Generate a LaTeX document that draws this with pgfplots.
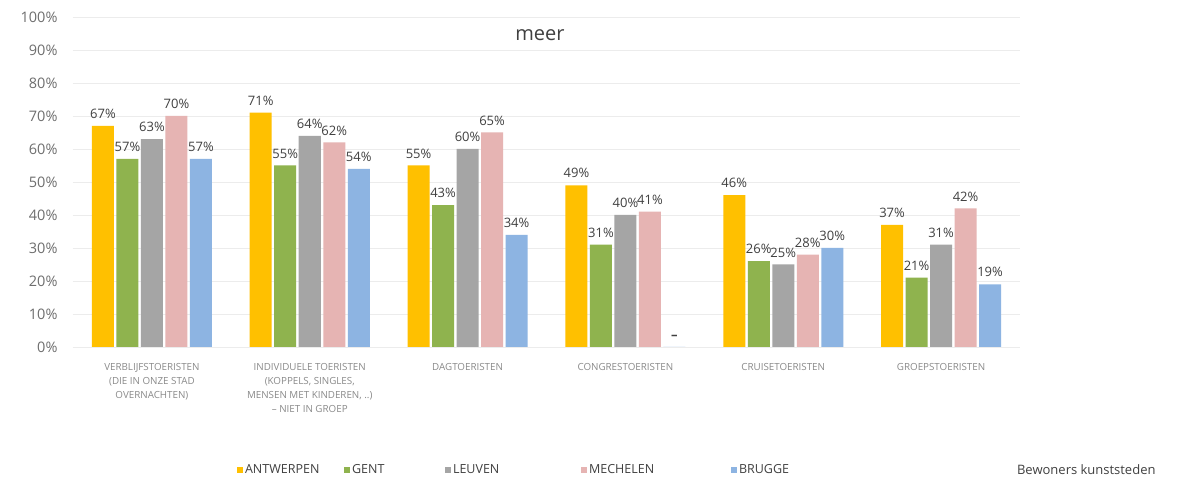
\documentclass[border=0pt]{standalone}
\usepackage{pgfplots}
\pgfplotsset{compat=1.18}
\usepackage{fontspec}
\setmainfont{Open Sans}
\definecolor{cyel}{HTML}{FFC000}
\definecolor{cgrn}{HTML}{8FB34E}
\definecolor{cgry}{HTML}{A5A5A5}
\definecolor{cpnk}{HTML}{E6B4B3}
\definecolor{cblu}{HTML}{8DB4E2}
\definecolor{gridc}{HTML}{ECECEC}
\definecolor{ticklab}{HTML}{6E6E6E}
\definecolor{xlab}{HTML}{8A8A8A}
\definecolor{datalab}{HTML}{404040}
\begin{document}
\begin{tikzpicture}
\fill[white] (-73pt,-134pt) rectangle (1106pt,347pt);
\path[use as bounding box] (-73pt,-134pt) rectangle (1106pt,347pt);
\begin{axis}[
  at={(0,0)}, anchor=south west,
  scale only axis, width=947pt, height=330pt,
  ybar=2.5pt, bar width=22pt,
  xmin=-0.5, xmax=5.5, ymin=0, ymax=100,
  xtick={0,1,2,3,4,5},
  xticklabels={{VERBLIJFSTOERISTEN\\(DIE IN ONZE STAD\\OVERNACHTEN)},
               {INDIVIDUELE TOERISTEN\\(KOPPELS, SINGLES,\\MENSEN MET KINDEREN, ..)\\– NIET IN GROEP},
               {DAGTOERISTEN},{CONGRESTOERISTEN},{CRUISETOERISTEN},{GROEPSTOERISTEN}},
  xticklabel style={align=center, font=\fontsize{9.8}{14}\selectfont, color=xlab, anchor=north, yshift=-13pt},
  ytick={0,10,20,30,40,50,60,70,80,90,100},
  yticklabels={0\%,10\%,20\%,30\%,40\%,50\%,60\%,70\%,80\%,90\%,100\%},
  yticklabel style={font=\fontsize{14.5}{16}\selectfont, color=ticklab, xshift=-12pt},
  major tick length=0pt,
  axis line style={draw=none},
  ymajorgrids, grid style={color=gridc, line width=0.8pt},
  point meta=explicit symbolic,
  nodes near coords={\pgfplotspointmeta},
  every node near coord/.append style={font=\fontsize{13}{15}\selectfont, color=datalab, inner sep=2pt, yshift=5pt},
  legend image code/.code={\fill[#1] (0pt,-3pt) rectangle (6pt,3pt);},
  legend columns=5,
  legend style={draw=none, fill=none, at={(0.173,-0.373)}, anchor=west, inner sep=0pt,
    font=\fontsize{12.5}{14}\selectfont, text=datalab,
    /tikz/every even column/.append style={column sep=0pt}},
  clip=false,
]
\addplot[fill=cyel, draw=none] coordinates {(0,67) [67\%] (1,71) [71\%] (2,55) [55\%] (3,49) [49\%] (4,46) [46\%] (5,37) [37\%]};
\addlegendentry{\makebox[97pt][l]{ANTWERPEN}}
\addplot[fill=cgrn, draw=none] coordinates {(0,57) [57\%] (1,55) [55\%] (2,43) [43\%] (3,31) [31\%] (4,26) [26\%] (5,21) [21\%]};
\addlegendentry{\makebox[91pt][l]{GENT}}
\addplot[fill=cgry, draw=none] coordinates {(0,63) [63\%] (1,64) [64\%] (2,60) [60\%] (3,40) [40\%] (4,25) [25\%] (5,31) [31\%]};
\addlegendentry{\makebox[126pt][l]{LEUVEN}}
\addplot[fill=cpnk, draw=none] coordinates {(0,70) [70\%] (1,62) [62\%] (2,65) [65\%] (3,41) [41\%] (4,28) [28\%] (5,42) [42\%]};
\addlegendentry{\makebox[140pt][l]{MECHELEN}}
\addplot[fill=cblu, draw=none] coordinates {(0,57) [57\%] (1,54) [54\%] (2,34) [34\%] (3,0) [\textbf{–}] (4,30) [30\%] (5,19) [19\%]};
\addlegendentry{BRUGGE}
\node[font=\fontsize{20}{22}\selectfont, color=datalab] at (rel axis cs:0.493,0.945) {meer};
\node[font=\fontsize{13}{15}\selectfont, color=datalab] at (rel axis cs:1.07,-0.373) {Bewoners kunststeden};
\end{axis}
\end{tikzpicture}
\end{document}
